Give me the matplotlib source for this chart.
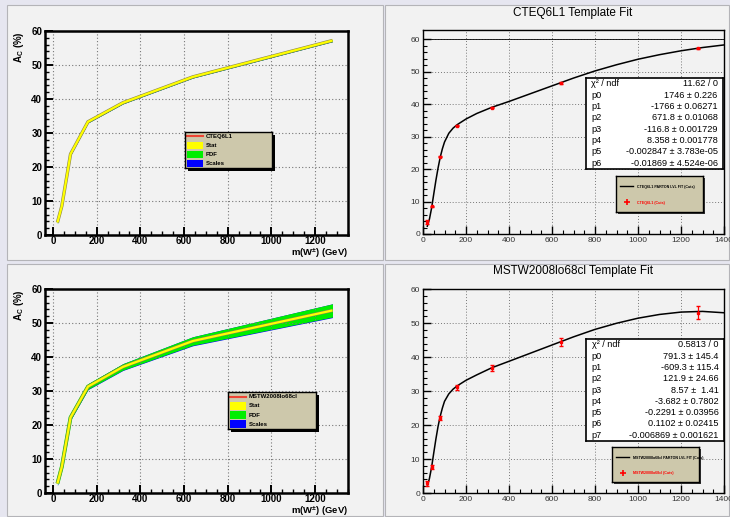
import numpy as np
import matplotlib
matplotlib.use('Agg')
from matplotlib import pyplot as plt
from matplotlib.patches import Rectangle
import matplotlib.patheffects as pe

plt.rcParams['font.family'] = ['Liberation Sans', 'DejaVu Sans']
plt.rcParams['mathtext.default'] = 'regular'

W, H = 730, 517

# mass points (GeV)
masses = [20, 40, 80, 160, 320, 640, 1280]

# CTEQ6L1 asymmetry and bands (%)
cteq_ac = [3.7, 8.5, 23.8, 33.3, 38.9, 46.5, 57.2]
cteq_stat = [0.3, 0.3, 0.3, 0.3, 0.3, 0.3, 0.3]
cteq_pdf = [0.32, 0.32, 0.32, 0.32, 0.32, 0.32, 0.32]
cteq_scale = [0.35, 0.35, 0.35, 0.35, 0.35, 0.35, 0.35]
cteq_err = [0.5, 0.2, 0.2, 0.2, 0.2, 0.2, 0.2]

# MSTW2008lo68cl asymmetry and bands (%)
mstw_ac = [2.8, 7.7, 22.2, 31.3, 37.1, 44.7, 53.7]
mstw_stat = [0.25, 0.25, 0.25, 0.25, 0.25, 0.25, 0.25]
mstw_pdf = [0.5, 0.6, 0.7, 0.8, 0.95, 1.25, 1.95]
mstw_scale = [0.6, 0.7, 0.8, 0.9, 1.05, 1.4, 2.1]
mstw_pts = [2.8, 7.7, 22.1, 31.1, 36.8, 44.4, 53.1]
mstw_err = [0.6, 0.5, 0.6, 0.7, 0.9, 1.2, 1.9]

# fitted curves
fit_x = [20, 30, 40, 50, 60, 70, 80, 90, 100, 120, 140, 160, 200, 250, 320,
         400, 500, 600, 700, 800, 900, 1000, 1100, 1200, 1300, 1400]
cteq_fit = [2.4, 4.6, 8.0, 12.3, 16.5, 20.3, 23.6, 26.2, 28.3, 31.0, 32.6, 33.7,
            35.4, 37.1, 39.0, 40.8, 43.2, 45.6, 48.0, 50.2, 52.1, 53.8, 55.2,
            56.4, 57.4, 58.2]
mstw_fit = [2.0, 4.3, 7.6, 11.8, 15.9, 19.6, 22.6, 25.0, 27.0, 29.2, 30.6, 31.6,
            33.2, 34.8, 36.9, 38.8, 41.2, 43.6, 46.0, 48.2, 50.0, 51.5, 52.6,
            53.3, 53.5, 53.1]

cteq_stats = [('χ² / ndf', '11.62 / 0'), ('p0', '1746 ± 0.226'),
              ('p1', '-1766 ± 0.06271'), ('p2', '671.8 ± 0.01068'),
              ('p3', '-116.8 ± 0.001729'), ('p4', '8.358 ± 0.001778'),
              ('p5', '-0.002847 ± 3.783e-05'), ('p6', '-0.01869 ± 4.524e-06')]
mstw_stats = [('χ² / ndf', '0.5813 / 0'), ('p0', '791.3 ± 145.4'),
              ('p1', '-609.3 ± 115.4'), ('p2', '121.9 ± 24.66'),
              ('p3', '8.57 ±  1.41'), ('p4', '-3.682 ± 0.7802'),
              ('p5', '-0.2291 ± 0.03956'), ('p6', '0.1102 ± 0.02415'),
              ('p7', '-0.006869 ± 0.001621')]


def rect(x0, y0, x1, y1):
    return [x0 / W, 1 - y1 / H, (x1 - x0) / W, (y1 - y0) / H]


def pad(fig, x0, y0, x1, y1):
    fig.patches.append(Rectangle((x0 / W, 1 - y1 / H), (x1 - x0) / W, (y1 - y0) / H,
                                 transform=fig.transFigure, facecolor='#f2f2f2',
                                 edgecolor='#b4b4b8', lw=0.8, zorder=-10))


def style_left(ax):
    ax.set_facecolor('none')
    ax.set_xlim(-37, 1351)
    ax.set_ylim(0, 60)
    ax.set_xticks(range(0, 1201, 200))
    ax.set_yticks(range(0, 61, 10))
    ax.set_xticks(range(-0, 1351, 50), minor=True)
    ax.set_yticks(range(0, 61, 2), minor=True)
    ax.tick_params(which='major', direction='in', length=6, width=1.4,
                   labelsize=7, pad=2)
    ax.tick_params(axis='x', which='major', pad=1)
    ax.tick_params(which='minor', direction='in', length=3, width=1.0)
    for lab in ax.get_xticklabels() + ax.get_yticklabels():
        lab.set_fontweight('bold')
    for s in ax.spines.values():
        s.set_linewidth(1.8)
    ax.grid(True, which='major', color='#777777', ls=(0, (1, 2)), lw=0.8)


def style_right(ax, ytop):
    ax.set_facecolor('none')
    ax.set_xlim(0, 1400)
    ax.set_ylim(0, ytop)
    ax.set_xticks(range(0, 1401, 200))
    ax.set_yticks(range(0, 61, 10))
    ax.set_xticks(range(0, 1401, 50), minor=True)
    ax.set_yticks(range(0, 61, 2), minor=True)
    ax.tick_params(which='major', direction='in', length=6, width=1.0,
                   labelsize=6, pad=2, labelcolor='#333333')
    ax.tick_params(which='minor', direction='in', length=3, width=0.8)
    for s in ax.spines.values():
        s.set_linewidth(1.0)
    ax.grid(True, which='major', color='#777777', ls=(0, (1, 2)), lw=0.7)


def band_plot(ax, ac, stat, pdf, scale, green_w):
    x = np.array(masses)
    c = np.array(ac)
    ax.fill_between(x, c - np.array(scale), c + np.array(pdf), color='#0000ff', lw=0)
    ax.fill_between(x, c - np.array(pdf), c + np.array(pdf), color='#00ee00', lw=0)
    if green_w > 0:
        ax.plot(x, c, color='#00ee00', lw=green_w, solid_joinstyle='miter',
                solid_capstyle='butt')
    ax.fill_between(x, c - np.array(stat), c + np.array(stat), facecolor='#ffff00',
                    lw=0)
    ax.plot(x, c, color='#ffff00', lw=1.6, solid_joinstyle='miter',
            solid_capstyle='butt',
            path_effects=[pe.Stroke(linewidth=2.4, foreground='#8a8450'), pe.Normal()])


def left_legend(fig, x0, y0, x1, y1, name):
    fig.patches.append(Rectangle(((x0 + 3) / W, 1 - (y1 + 3) / H), (x1 - x0) / W,
                                 (y1 - y0) / H, transform=fig.transFigure,
                                 facecolor='black', lw=0, zorder=5))
    lg = fig.add_axes(rect(x0, y0, x1, y1), zorder=6)
    lg.set_facecolor('#cdc8ab')
    lg.set_xticks([])
    lg.set_yticks([])
    for s in lg.spines.values():
        s.set_linewidth(1.0)
    lg.set_xlim(0, x1 - x0)
    lg.set_ylim(y1 - y0, 0)
    rows = [(name, 'line'), ('Stat', '#ffff00'), ('PDF', '#00ee00'), ('Scales', '#0000ff')]
    step = (y1 - y0) / 4.0
    for i, (lab, kind) in enumerate(rows):
        yc = step * (i + 0.5)
        if kind == 'line':
            lg.plot([2, 18], [yc, yc], color='#ee4433', lw=1.5)
        else:
            lg.add_patch(Rectangle((2, yc - step * 0.42), 16, step * 0.84,
                                   facecolor=kind, lw=0))
        lg.text(21, yc, lab, fontsize=4.3, fontweight='bold', va='center')


def stats_box(fig, x0, y0, x1, y1, rows):
    sb = fig.add_axes(rect(x0, y0, x1, y1), zorder=6)
    sb.set_facecolor('white')
    sb.set_xticks([])
    sb.set_yticks([])
    for s in sb.spines.values():
        s.set_linewidth(1.2)
    n = len(rows)
    for i, (k, v) in enumerate(rows):
        yc = 1 - (i + 0.5) / n
        sb.text(0.04, yc, k, fontsize=6.6, va='center', ha='left', transform=sb.transAxes)
        sb.text(0.96, yc, v, fontsize=6.6, va='center', ha='right', transform=sb.transAxes)


def fit_legend(fig, x0, y0, x1, y1, name):
    fig.patches.append(Rectangle(((x0 + 1.5) / W, 1 - (y1 + 1.5) / H), (x1 - x0) / W,
                                 (y1 - y0) / H, transform=fig.transFigure,
                                 facecolor='#333333', lw=0, zorder=5))
    fl = fig.add_axes(rect(x0, y0, x1, y1), zorder=6)
    fl.set_facecolor('#cdc8ab')
    fl.set_xticks([])
    fl.set_yticks([])
    for s in fl.spines.values():
        s.set_linewidth(1.0)
    fl.plot([0.05, 0.2], [0.72, 0.72], color='black', lw=1.0, transform=fl.transAxes)
    fl.text(0.24, 0.70, name + ' PARTON LVL FIT (Cuts)', fontsize=2.6,
            fontweight='bold', va='center', transform=fl.transAxes)
    fl.plot([0.13], [0.27], marker='+', color='red', ms=4, mew=1.2,
            transform=fl.transAxes)
    fl.text(0.24, 0.25, name + ' (Cuts)', fontsize=2.6, color='red',
            fontweight='bold', va='center', transform=fl.transAxes)


fig = plt.figure(figsize=(W / 100, H / 100), dpi=100)
fig.patch.set_facecolor('#e6e6f0')

pad(fig, 7, 5, 383, 260)
pad(fig, 385, 5, 729, 260)
pad(fig, 7, 264, 383, 516)
pad(fig, 385, 264, 729, 516)

# top left
ax_tl = fig.add_axes(rect(45, 31, 348, 235))
style_left(ax_tl)
band_plot(ax_tl, cteq_ac, cteq_stat, cteq_pdf, cteq_scale, 0)
left_legend(fig, 185, 132, 272, 168, 'CTEQ6L1')

# bottom left
ax_bl = fig.add_axes(rect(45, 289, 348, 493))
style_left(ax_bl)
band_plot(ax_bl, mstw_ac, mstw_stat, mstw_pdf, mstw_scale, 2.8)
left_legend(fig, 228, 392, 316, 429, 'MSTW2008lo68cl')

for ytop in (31, 289):
    fig.text(19 / W, 1 - ytop / H, 'A$_{C}$ (%)', rotation=90, ha='center', va='top',
             fontsize=7, fontweight='bold')
for ylab in (253, 511):
    fig.text(348 / W, 1 - ylab / H, 'm(W$^{\\pm}$) (GeV)', ha='right', va='center',
             fontsize=6.8, fontweight='bold')

# top right
ax_tr = fig.add_axes(rect(423, 30, 724, 234))
style_right(ax_tr, 62.8)
ax_tr.axhline(60, color='black', lw=0.6)
ax_tr.plot(fit_x, cteq_fit, color='black', lw=1.1)
ax_tr.errorbar(masses, cteq_ac, yerr=cteq_err, fmt='s', color='red', ms=1.6,
               elinewidth=0.8, capsize=1.2)
fig.text(573 / W, 1 - 13 / H, 'CTEQ6L1 Template Fit', ha='center', va='center',
         fontsize=8.5)
stats_box(fig, 586, 78, 723, 169, cteq_stats)
fit_legend(fig, 616, 176, 703, 212, 'CTEQ6L1')

# bottom right
ax_br = fig.add_axes(rect(423, 289, 724, 493))
style_right(ax_br, 60.1)
ax_br.plot(fit_x, mstw_fit, color='black', lw=1.1)
ax_br.errorbar(masses, mstw_pts, yerr=mstw_err, fmt='s', color='red', ms=1.6,
               elinewidth=0.9, capsize=1.4)
fig.text(573 / W, 1 - 271 / H, 'MSTW2008lo68cl Template Fit', ha='center',
         va='center', fontsize=8.5)
stats_box(fig, 586, 339, 724, 441, mstw_stats)
fit_legend(fig, 612, 447, 699, 482, 'MSTW2008lo68cl')

fig.savefig('out.png', dpi=100, facecolor=fig.get_facecolor())
